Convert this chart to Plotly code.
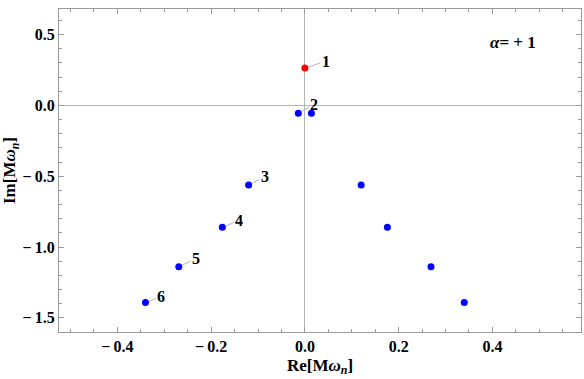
import plotly.graph_objects as go

# quasinormal mode frequencies, alpha = +1
labels = ["1", "2", "3", "4", "5", "6"]
re_left = [0.0, -0.014, -0.12, -0.176, -0.269, -0.34]
im_left = [0.263, -0.055, -0.562, -0.861, -1.139, -1.392]
re_right = [0.014, 0.12, 0.176, 0.269, 0.34]
im_right = [-0.055, -0.562, -0.861, -1.139, -1.392]
label_dx = [21, 16, 16, 17, 17, 16]
label_dy = [-7, -9, -8, -7, -8, -6]

x_ticks = [-0.4, -0.2, 0.0, 0.2, 0.4]
x_ticktext = ["\u2212\u20090.4", "\u2212\u20090.2", "0.0", "0.2", "0.4"]
y_ticks = [0.5, 0.0, -0.5, -1.0, -1.5]
y_ticktext = ["0.5", "0.0", "\u2212\u20090.5", "\u2212\u20091.0", "\u2212\u20091.5"]

serif = "Liberation Serif"
frame = "#9a9a9a"

fig = go.Figure()
fig.add_trace(go.Scatter(x=re_left[1:] + re_right, y=im_left[1:] + im_right, mode="markers",
                         marker=dict(color="#0000ff", size=7), showlegend=False))
fig.add_trace(go.Scatter(x=re_left[:1], y=im_left[:1], mode="markers",
                         marker=dict(color="#ff0000", size=7), showlegend=False))

for lab, x, y, dx, dy in zip(labels, re_left, im_left, label_dx, label_dy):
    fig.add_annotation(x=x, y=y, text="<b>%s</b>" % lab, showarrow=True, arrowhead=0,
                       arrowwidth=1, arrowcolor="#b8b8b8", ax=dx, ay=dy, standoff=4,
                       font=dict(family=serif, size=16, color="black"))

fig.add_annotation(xref="paper", yref="paper", x=0.870, y=0.895, showarrow=False,
                   xanchor="center", yanchor="middle",
                   text="<i><b>α</b></i><b>= + 1</b>",
                   font=dict(family=serif, size=17, color="black"))

axis_common = dict(showline=True, linecolor=frame, linewidth=1, mirror="ticks",
                   ticks="inside", ticklen=5, tickcolor=frame, showgrid=False,
                   zeroline=True, zerolinecolor="#b4b4b4", zerolinewidth=1,
                   automargin=False,
                   tickfont=dict(family=serif, size=16, color="black", weight="bold"))

fig.update_xaxes(range=[-0.5245, 0.589], tickvals=x_ticks, ticktext=x_ticktext,
                 minor=dict(ticks="inside", ticklen=3, tickcolor=frame, dtick=0.05, tick0=0),
                 title=dict(text="<b>Re[M<i>ω</i><sub><i>n</i></sub>]</b>", standoff=4,
                            font=dict(family=serif, size=17, color="black")),
                 **axis_common)
fig.update_yaxes(range=[-1.6, 0.68], tickvals=y_ticks, ticktext=y_ticktext,
                 minor=dict(ticks="inside", ticklen=3, tickcolor=frame, dtick=0.1, tick0=0),
                 title=dict(text="<b>Im[M<i>ω</i><sub><i>n</i></sub>]</b>", standoff=4,
                            font=dict(family=serif, size=17, color="black")),
                 **axis_common)

fig.update_layout(width=584, height=379, margin=dict(l=59, r=3, t=9, b=47),
                  plot_bgcolor="white", paper_bgcolor="white")

# page body has a default 8px margin; drop it so the figure fills the window
fig.write_html("out.html", config={"displayModeBar": False},
               post_script="document.body.style.margin='0';document.body.style.overflow='hidden';")
